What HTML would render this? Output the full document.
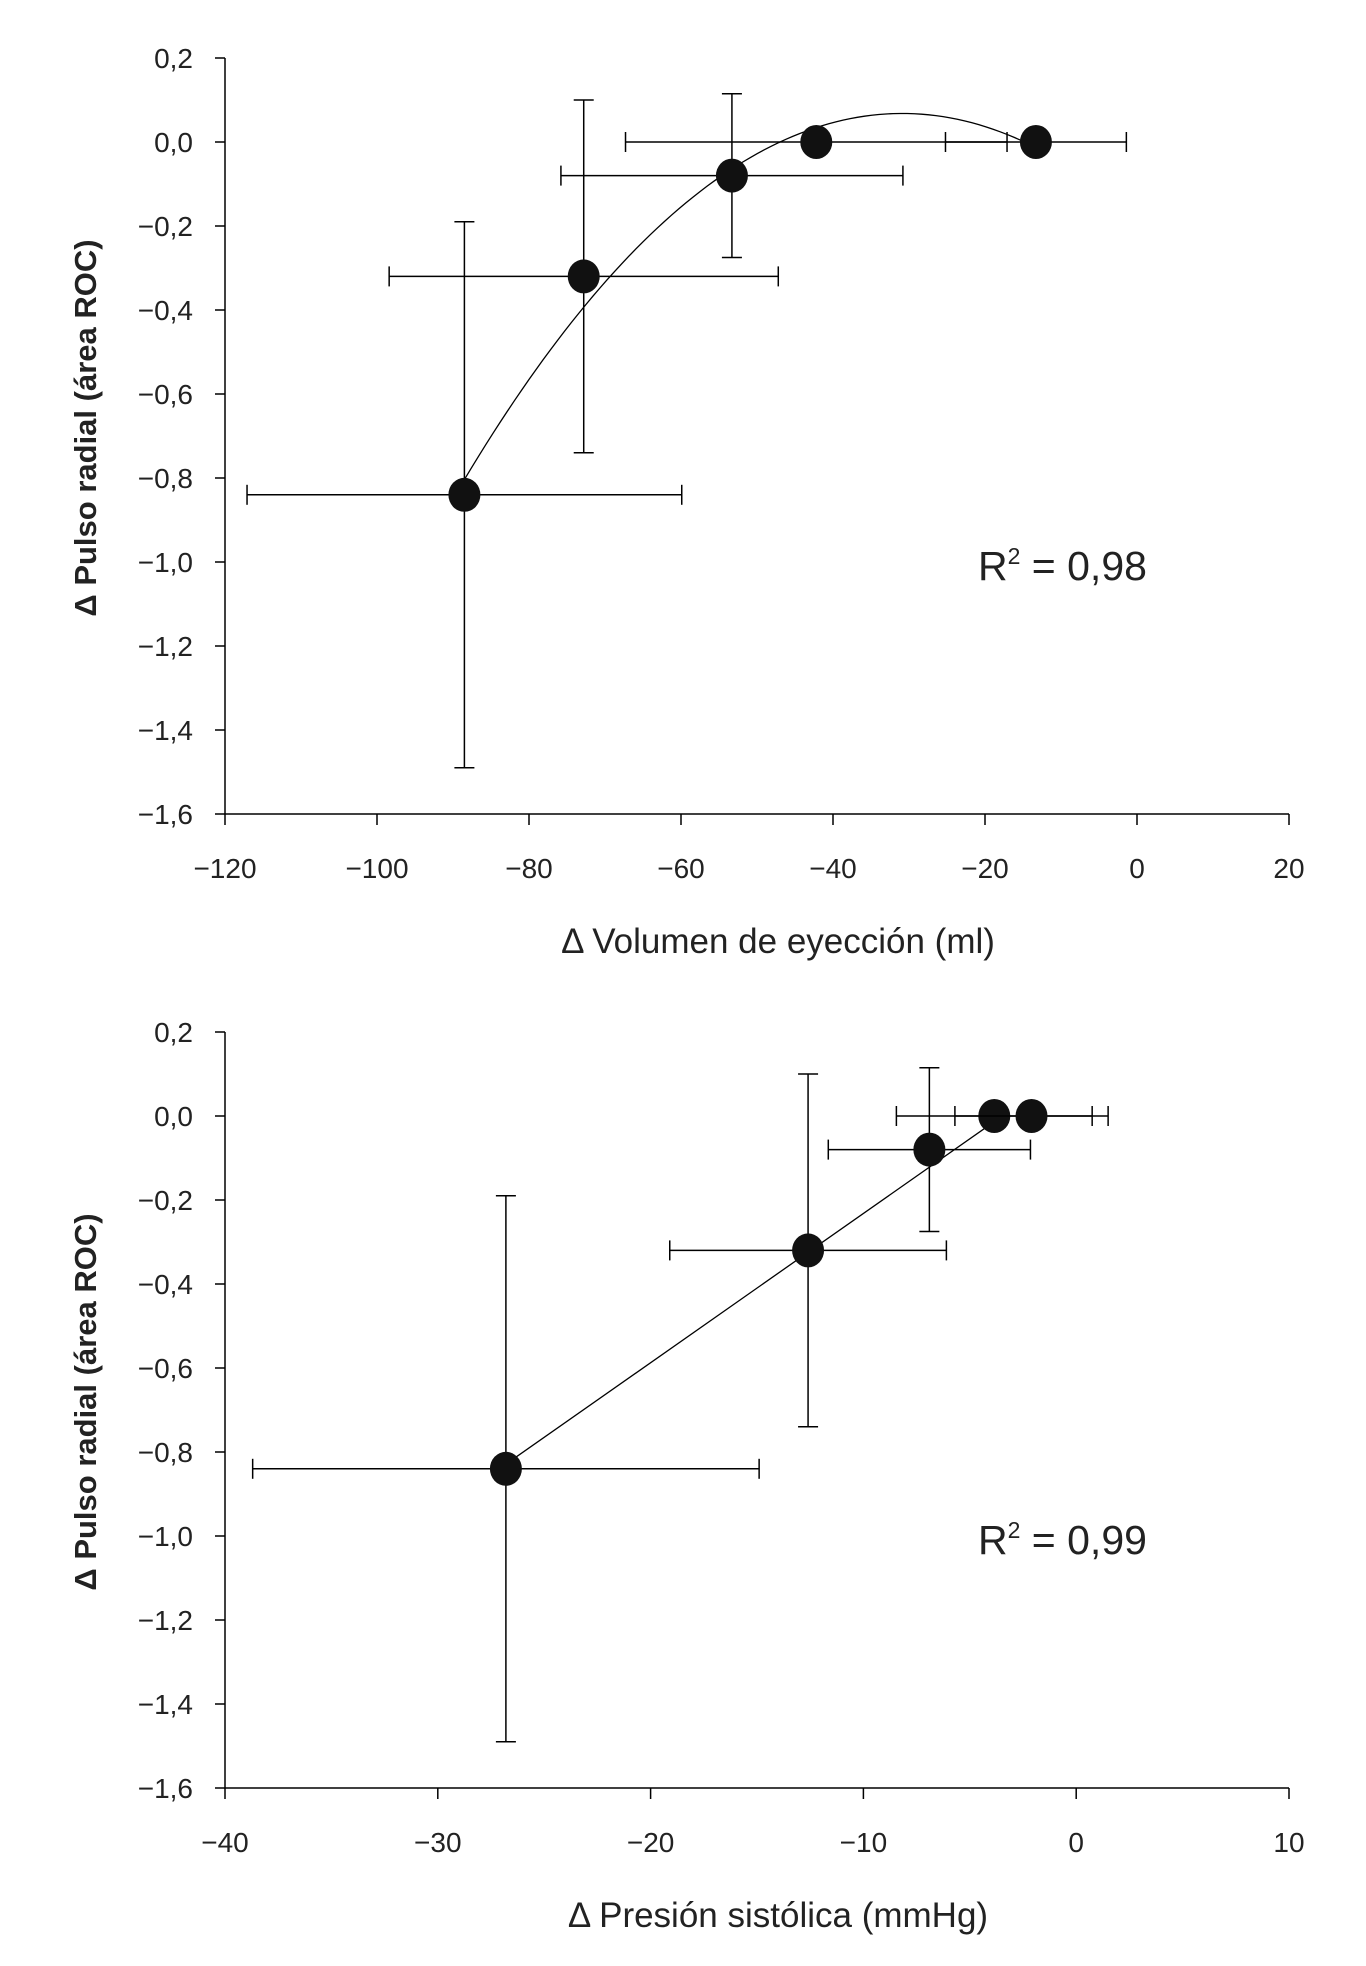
<!DOCTYPE html>
<html><head><meta charset="utf-8"><style>
html,body{margin:0;padding:0;background:#fff;}
svg{display:block;font-family:"Liberation Sans",Arial,sans-serif;}
</style></head><body>
<svg id="svg" width="1366" height="1966" viewBox="0 0 1366 1966"></svg>
<script>
const yTicks=[0.2,0,-0.2,-0.4,-0.6,-0.8,-1.0,-1.2,-1.4,-1.6];
const xTicksA=[-120,-100,-80,-60,-40,-20,0,20];
const xTicksB=[-40,-30,-20,-10,0,10];
const yVals=[-0.84,-0.32,-0.08,0,0];
const yErr=[0.65,0.42,0.195,0,0];
const xValsA=[-88.5,-72.8,-53.3,-42.2,-13.3];
const xErrA=[28.6,25.6,22.5,25.1,11.9];
const xValsB=[-26.8,-12.6,-6.9,-3.85,-2.1];
const xErrB=[11.9,6.5,4.75,4.6,3.6];
const svg=document.getElementById('svg');
const NS='http://www.w3.org/2000/svg';
function mk(tag,attrs,parent){const e=document.createElementNS(NS,tag);for(const k in attrs)e.setAttribute(k,attrs[k]);(parent||svg).appendChild(e);return e;}
function fmt(v){let s=Math.abs(v).toFixed(1).replace('.',',');return (v<0?'\u2212':'')+s;}
function solve3(M,v){
  const A=M.map((r,i)=>r.concat([v[i]]));
  for(let i=0;i<3;i++){let p=i;for(let j=i+1;j<3;j++)if(Math.abs(A[j][i])>Math.abs(A[p][i]))p=j;[A[i],A[p]]=[A[p],A[i]];
    for(let j=0;j<3;j++){if(j===i)continue;const f=A[j][i]/A[i][i];for(let k=i;k<4;k++)A[j][k]-=f*A[i][k];}}
  return [A[0][3]/A[0][0],A[1][3]/A[1][1],A[2][3]/A[2][2]];
}
function chart(name,top,xTicks,xVals,xErr,fitType,xTitle,r2){
  const g=mk('g',{});
  
  
  const L=225,R=1289,T=top,B=top+756;
  const xmin=xTicks[0],xmax=xTicks[xTicks.length-1];
  const X=v=>L+(v-xmin)/(xmax-xmin)*(R-L);
  const Y=v=>T+(0.2-v)/1.8*(B-T);
  const ax=mk('path',{d:`M${L},${T}V${B}H${R}`,stroke:'#000','stroke-width':1.5,fill:'none'},g);
  
  
  yTicks.forEach(t=>{
    mk('line',{x1:L-10,x2:L,y1:Y(t),y2:Y(t),stroke:'#000','stroke-width':1.5},g);
    const tx=mk('text',{x:L-32,y:Y(t)+10,'text-anchor':'end','font-size':28,fill:'#222'},g);
    tx.textContent=fmt(t);
    
    
  });
  xTicks.forEach(t=>{
    mk('line',{x1:X(t),x2:X(t),y1:B,y2:B+11,stroke:'#000','stroke-width':1.5},g);
    const tx=mk('text',{x:X(t),y:B+64,'text-anchor':'middle','font-size':28,fill:'#222'},g);
    tx.textContent=t<0?'\u2212'+Math.abs(t):String(t);
    
    
  });
  let pts=[];
  const lo=Math.min(...xVals),hi=Math.max(...xVals);
  if(fitType==='quad'){
    let S=[0,0,0,0,0],Sy=[0,0,0];
    xVals.forEach((x,i)=>{for(let k=0;k<5;k++)S[k]+=x**k;for(let k=0;k<3;k++)Sy[k]+=yVals[i]*x**k;});
    const c=solve3([[S[0],S[1],S[2]],[S[1],S[2],S[3]],[S[2],S[3],S[4]]],Sy);
    for(let i=0;i<=80;i++){const x=lo+(hi-lo)*i/80;pts.push([X(x),Y(c[0]+c[1]*x+c[2]*x*x)]);}
  }else{
    const n=xVals.length,mx=xVals.reduce((a,b)=>a+b)/n,my=yVals.reduce((a,b)=>a+b)/n;
    let sxy=0,sxx=0;xVals.forEach((x,i)=>{sxy+=(x-mx)*(yVals[i]-my);sxx+=(x-mx)**2;});
    const b=sxy/sxx,a=my-b*mx;
    pts=[[X(lo),Y(a+b*lo)],[X(hi-1.5),Y(a+b*(hi-1.5))]];
  }
  const fl=mk('polyline',{points:pts.map(p=>p.join(',')).join(' '),fill:'none',stroke:'#000','stroke-width':1.3},g);
  
  
  xVals.forEach((x,i)=>{
    const y=yVals[i],cx=X(x),cy=Y(y);
    const eb=mk('g',{stroke:'#000','stroke-width':1.5},g);
    
    
    const x1=X(x-xErr[i]),x2=X(x+xErr[i]);
    mk('line',{x1:x1,x2:x2,y1:cy,y2:cy},eb);
    mk('line',{x1:x1,x2:x1,y1:cy-10,y2:cy+10},eb);
    mk('line',{x1:x2,x2:x2,y1:cy-10,y2:cy+10},eb);
    if(yErr[i]>0){const y1=Y(y+yErr[i]),y2=Y(y-yErr[i]);
      mk('line',{x1:cx,x2:cx,y1:y1,y2:y2},eb);
      mk('line',{x1:cx-10,x2:cx+10,y1:y1,y2:y1},eb);
      mk('line',{x1:cx-10,x2:cx+10,y1:y2,y2:y2},eb);}
    const pt=mk('ellipse',{cx:cx,cy:cy,rx:16,ry:17,fill:'#111'},g);
    
    
  });
  const xt=mk('text',{x:778,y:B+139,'text-anchor':'middle','font-size':35,fill:'#222'},g);
  xt.textContent='\u0394 '+xTitle;
  
  
  const yt=mk('text',{x:0,y:0,'text-anchor':'middle','font-size':31,'font-weight':'bold',fill:'#222',transform:`translate(96,${T+370}) rotate(-90)`},g);
  yt.textContent='\u0394 Pulso radial (área ROC)';
  
  
  const rt=mk('text',{x:978,y:T+522,'font-size':41,fill:'#222'},g);
  rt.innerHTML='R<tspan font-size="23" dy="-16">2</tspan><tspan dy="16"> = '+r2+'</tspan>';
  
  
}
chart('chart-volume',58,xTicksA,xValsA,xErrA,'quad','Volumen de eyección (ml)','0,98');
chart('chart-pressure',1032,xTicksB,xValsB,xErrB,'lin','Presión sistólica (mmHg)','0,99');
</script>
</body></html>
